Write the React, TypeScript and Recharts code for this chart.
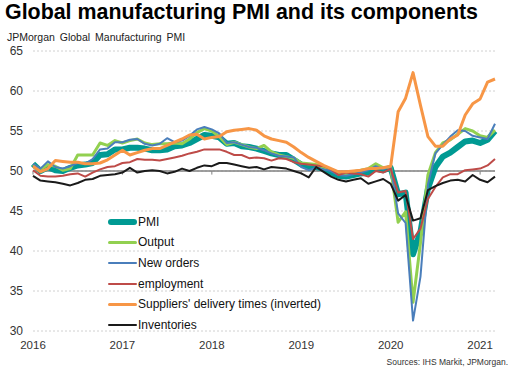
import { LineChart, Line, XAxis, YAxis, CartesianGrid, ReferenceLine } from 'recharts'

const years = ['2016', '2017', '2018', '2019', '2020', '2021']
const monthNames = ['Jan', 'Feb', 'Mar', 'Apr', 'May', 'Jun', 'Jul', 'Aug', 'Sep', 'Oct', 'Nov', 'Dec']

// Jan 2016 .. Mar 2021
const months: string[] = []
years.forEach((y) => monthNames.forEach((m) => months.push(`${m} ${y}`)))
months.splice(63)

const yTicks = [30, 35, 40, 45, 50, 55, 60, 65]
const yearTicks = years.map((y) => `Jan ${y}`)

const pmi = [
  50.9, 50.0, 50.5, 50.1, 50.0, 50.4, 50.7, 50.8, 51.0, 52.0, 52.1, 52.7,
  52.7, 52.9, 52.9, 52.8, 52.6, 52.6, 52.7, 53.1, 53.2, 53.5, 54.0, 54.5,
  54.4, 54.2, 53.4, 53.5, 53.1, 53.0, 52.8, 52.5, 52.2, 52.0, 52.0, 51.4,
  50.8, 50.6, 50.5, 50.3, 49.8, 49.4, 49.3, 49.5, 49.7, 49.8, 50.3, 50.1,
  50.4, 47.1, 47.3, 39.6, 42.4, 47.8, 50.5, 51.8, 52.3, 53.0, 53.7, 53.8,
  53.5, 53.9, 55.0,
]

const output = [
  50.8, 50.2, 50.8, 50.6, 50.1, 50.3, 52.0, 52.0, 52.0, 53.5, 53.2, 53.8,
  53.5, 53.8, 54.0, 53.5, 53.3, 53.4, 53.4, 53.5, 53.4, 54.0, 54.8, 55.3,
  55.0, 54.3, 53.3, 53.6, 53.3, 53.0, 52.8, 53.2, 52.4, 52.0, 51.8, 51.6,
  51.0, 50.9, 50.8, 50.5, 50.2, 49.8, 49.6, 49.9, 50.1, 50.3, 50.9, 50.4,
  50.5, 43.6, 44.9, 33.6, 41.0, 49.5, 52.3, 53.5, 53.9, 54.6, 55.3, 55.0,
  54.4, 54.2, 55.1,
]

const newOrders = [
  50.9, 50.3, 51.2, 50.5, 50.3, 50.6, 51.0, 50.9, 51.5, 52.7, 52.8, 53.6,
  53.6, 53.9, 54.0, 53.4, 53.2, 53.4, 54.1, 53.6, 53.8, 54.4, 55.2, 55.5,
  55.2, 54.7, 53.5, 53.6, 53.3, 53.0, 52.9, 52.6, 52.2, 51.9, 51.8, 51.7,
  50.5, 50.1, 50.4, 50.2, 50.0, 49.5, 49.4, 49.6, 49.8, 50.1, 50.6, 50.2,
  50.6, 44.7, 43.5, 31.3, 36.8, 48.3, 52.2, 53.3, 54.3, 55.1, 55.0, 54.4,
  54.2, 54.0, 55.9,
]

const employment = [
  50.1, 49.4, 49.3, 49.3, 49.4, 49.6, 49.7, 49.3, 49.8, 50.2, 50.5, 50.6,
  51.0, 51.1, 51.5, 51.4, 51.4, 51.3, 51.5, 51.7, 51.9, 52.2, 52.4, 52.7,
  52.7, 52.7, 52.4, 52.0, 52.0, 51.6, 51.7, 51.6, 51.3, 51.6, 51.5, 51.1,
  50.9, 50.8, 50.7, 50.6, 50.2, 49.5, 49.8, 49.7, 49.6, 49.3, 50.0, 49.8,
  50.3, 47.3, 47.5, 41.5, 42.8, 46.5, 48.0, 49.2, 49.6, 49.6, 50.1, 50.2,
  50.3, 50.7, 51.5,
]

const deliveryTimes = [
  50.6, 49.9, 50.3, 51.3, 51.2, 51.1, 51.1, 50.9, 50.9, 51.0, 51.4, 52.0,
  52.6, 52.0, 52.3, 52.6, 52.8, 52.8, 53.2, 53.6, 54.0, 54.5, 54.6, 54.0,
  54.2, 54.3, 54.9, 55.1, 55.2, 55.3, 55.1, 54.4, 54.0, 53.8, 53.6, 53.0,
  52.3, 51.7, 51.2, 50.7, 50.3, 49.9, 49.9, 50.0, 50.1, 50.3, 50.3, 50.4,
  50.6, 57.4, 59.1, 62.3, 58.2, 54.3, 53.1, 53.1, 54.0, 54.5, 57.0, 58.4,
  59.0, 61.1, 61.5,
]

const inventories = [
  49.4, 48.8, 48.7, 48.6, 48.4, 48.2, 48.5, 48.9, 49.0, 49.4, 49.5, 49.6,
  49.8, 50.4, 49.8, 50.0, 50.1, 50.0, 49.7, 49.9, 50.3, 50.0, 50.4, 50.7,
  50.6, 51.0, 51.0, 50.8, 50.6, 50.4, 50.5, 50.2, 50.5, 50.4, 50.3, 50.0,
  49.7, 49.2, 50.5, 49.9, 49.3, 48.9, 48.7, 48.9, 49.1, 48.4, 48.7, 49.0,
  48.4, 46.3, 47.0, 43.8, 44.1, 47.6, 48.1, 48.5, 48.8, 48.9, 48.7, 49.5,
  48.9, 48.6, 49.3,
]

const series = [
  { key: 'pmi', name: 'PMI', color: '#009a93', width: 6 },
  { key: 'output', name: 'Output', color: '#92d050', width: 3 },
  { key: 'newOrders', name: 'New orders', color: '#4a7ebb', width: 2 },
  { key: 'employment', name: 'employment', color: '#be4b48', width: 2 },
  { key: 'deliveryTimes', name: "Suppliers' delivery times (inverted)", color: '#f79646', width: 3 },
  { key: 'inventories', name: 'Inventories', color: '#1a1a1a', width: 2 },
]

const data = months.map((m, i) => ({
  month: m,
  pmi: pmi[i],
  output: output[i],
  newOrders: newOrders[i],
  employment: employment[i],
  deliveryTimes: deliveryTimes[i],
  inventories: inventories[i],
}))

const font = '"Liberation Sans", Arial, sans-serif'

export default function App() {
  return (
    <div style={{ position: 'absolute', left: 0, top: 0, width: 519, height: 379, background: '#fff', fontFamily: font }}>
      <div style={{ position: 'absolute', left: 5, top: 2, fontSize: 21.4, lineHeight: '21px', fontWeight: 'bold', color: '#000', whiteSpace: 'nowrap' }}>
        Global manufacturing PMI and its components
      </div>
      <div style={{ position: 'absolute', left: 7, top: 31.5, fontSize: 10.5, lineHeight: '10.5px', wordSpacing: 2, color: '#222', whiteSpace: 'nowrap' }}>
        JPMorgan Global Manufacturing PMI
      </div>
      <LineChart width={519} height={379} data={data} margin={{ top: 51, right: 24, bottom: 18, left: 8 }}>
        <CartesianGrid horizontal vertical={false} stroke="#d0d0d0" strokeDasharray="2 2" />
        <XAxis
          dataKey="month"
          ticks={yearTicks}
          interval={0}
          tickFormatter={(v: string) => v.slice(4)}
          axisLine={false}
          tickLine={false}
          height={30}
          tickMargin={4}
          tick={{ fontSize: 11.5, fill: '#333', fontFamily: font }}
        />
        <YAxis
          domain={[30, 65]}
          ticks={yTicks}
          interval={0}
          width={25}
          axisLine={false}
          tickLine={false}
          tickMargin={4}
          tick={{ fontSize: 12, fill: '#333', fontFamily: font }}
        />
        <ReferenceLine y={50} stroke="#808080" strokeWidth={1.3} />
        {yearTicks.map((t) => (
          <ReferenceLine key={t} segment={[{ x: t, y: 50 }, { x: t, y: 49.55 }]} stroke="#808080" strokeWidth={1} />
        ))}
        {series.map((s) => (
          <Line
            key={s.key}
            type="linear"
            dataKey={s.key}
            name={s.name}
            stroke={s.color}
            strokeWidth={s.width}
            strokeLinejoin="round"
            dot={false}
            activeDot={false}
            isAnimationActive={false}
          />
        ))}
      </LineChart>
      {series.map((s, i) => (
        <div key={s.key} style={{ position: 'absolute', left: 108, top: 221.7 + i * 20.65 - 8, height: 16, display: 'flex', alignItems: 'center' }}>
          <div style={{ width: 29, height: s.width, background: s.color, borderRadius: s.width / 2 }} />
          <span style={{ marginLeft: 1, fontSize: 12, color: '#111', whiteSpace: 'nowrap' }}>{s.name}</span>
        </div>
      ))}
      <div style={{ position: 'absolute', right: 11, top: 357.5, fontSize: 8.5, lineHeight: '9px', color: '#333', whiteSpace: 'nowrap' }}>
        Sources: IHS Markit, JPMorgan.
      </div>
    </div>
  )
}
